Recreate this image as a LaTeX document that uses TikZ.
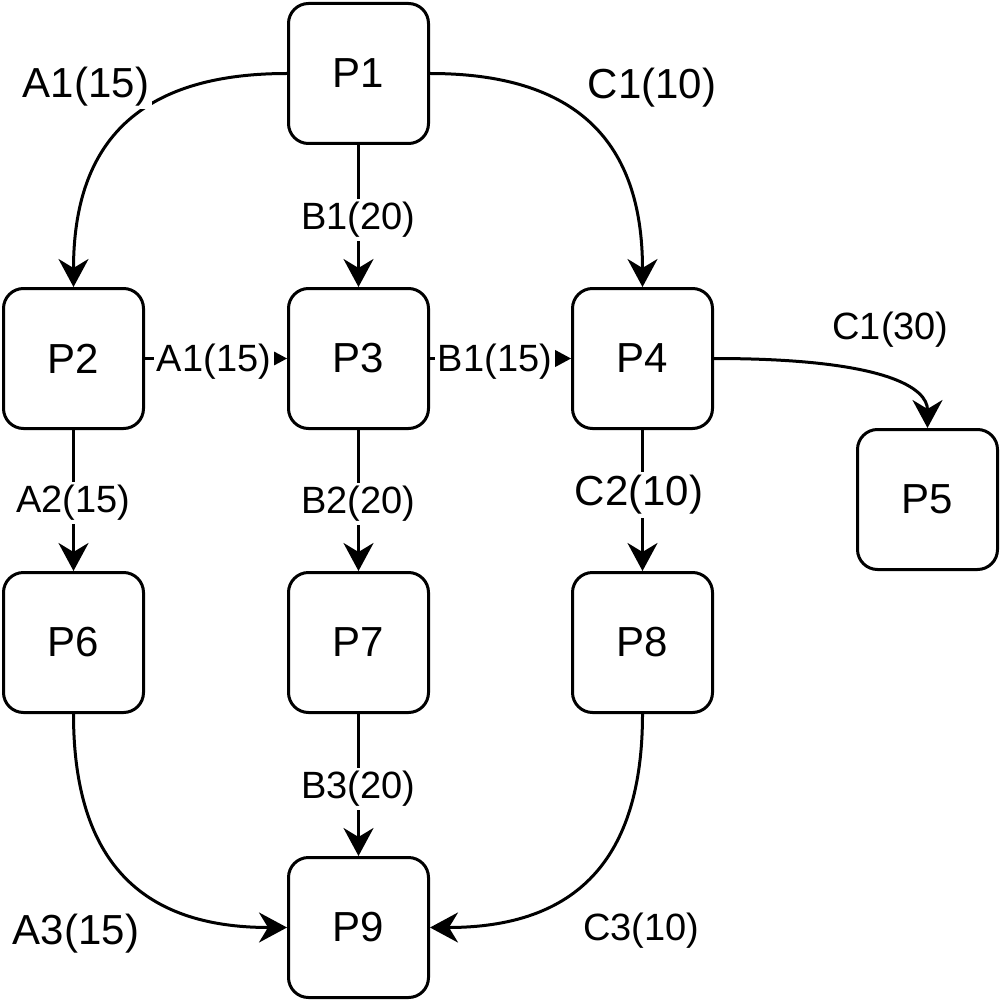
\documentclass[tikz,border=0pt]{standalone}
\usepackage{fontspec}
\setmainfont{Liberation Sans}
\usetikzlibrary{arrows.meta}
\begin{document}
\begin{tikzpicture}[x=1pt,y=-1pt,
  proc/.style={draw, line width=3pt, rounded corners=20pt,
    minimum width=140pt, minimum height=140pt, inner sep=0pt,
    font=\fontsize{42}{50}\selectfont},
  flow/.style={line width=3pt, -{Stealth[length=28pt,width=30pt,inset=9pt]}},
  biglab/.style={fill=white, inner sep=3pt, font=\fontsize{42}{50}\selectfont},
  lab/.style={fill=white, inner sep=3pt, font=\fontsize{38}{46}\selectfont}]
\useasboundingbox (0,0) rectangle (1000,1000);

% process boxes
\node[proc] (p1) at (358.5,73.5)  {P1};
\node[proc] (p2) at (73.5,358.5)  {P2};
\node[proc] (p3) at (358.5,358.5) {P3};
\node[proc] (p4) at (642.5,358.5) {P4};
\node[proc] (p5) at (927.5,499.5) {P5};
\node[proc] (p6) at (73.5,642.5)  {P6};
\node[proc] (p7) at (358.5,642.5) {P7};
\node[proc] (p8) at (642.5,642.5) {P8};
\node[proc] (p9) at (358.5,927.5) {P9};

% flows
\draw[flow] (p1.west) .. controls (140.5,73.5) and (73.5,140.5) .. (p2.north);
\draw[flow] (p1.east) .. controls (575.5,73.5) and (642.5,140.5) .. (p4.north);
\draw[flow] (p1.south) -- (p3.north);
\draw[flow] (p2.east) -- (p3.west);
\draw[flow] (p3.east) -- (p4.west);
\draw[flow] (p4.east) .. controls (887.5,358.5) and (927.5,388.5) .. (p5.north);
\draw[flow] (p2.south) -- (p6.north);
\draw[flow] (p3.south) -- (p7.north);
\draw[flow] (p4.south) -- (p8.north);
\draw[flow] (p7.south) -- (p9.north);
\draw[flow] (p6.south) .. controls (73.5,860.5) and (140.5,927.5) .. (p9.west);
\draw[flow] (p8.south) .. controls (642.5,860.5) and (575.5,927.5) .. (p9.east);

% flow labels
\node[biglab] (la1)  at (86,86.5)    {A1(15)};
\node[biglab] (lc1)  at (652,88)     {C1(10)};
\node[lab]    (lb1)  at (358.5,220)  {B1(20)};
\node[lab]    (la1m) at (214,362)    {A1(15)};
\node[lab]    (lb1m) at (495,362)    {B1(15)};
\node[lab]    (lc1r) at (890.5,330)  {C1(30)};
\node[lab]    (la2)  at (73.5,503)   {A2(15)};
\node[lab]    (lb2)  at (358.5,504)  {B2(20)};
\node[biglab] (lc2)  at (639,495)    {C2(10)};
\node[lab]    (lb3)  at (358.5,789)  {B3(20)};
\node[biglab] (la3)  at (76,934)     {A3(15)};
\node[lab]    (lc3)  at (641.5,931)  {C3(10)};
\end{tikzpicture}
\end{document}
